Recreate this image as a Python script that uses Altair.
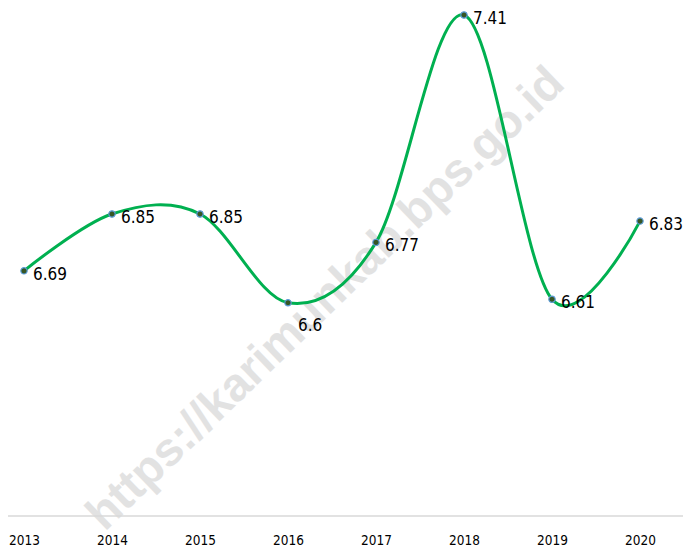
import altair as alt
import pandas as pd

years = ["2013", "2014", "2015", "2016", "2017", "2018", "2019", "2020"]
values = [6.69, 6.85, 6.85, 6.60, 6.77, 7.41, 6.61, 6.83]
labels = ["6.69", "6.85", "6.85", "6.6", "6.77", "7.41", "6.61", "6.83"]
watermark = "https://karimunkab.bps.go.id"

df = pd.DataFrame({"year": years, "value": values, "label": labels})

FONT = "Liberation Sans Narrow, DejaVu Sans Condensed, sans-serif"

x = alt.X("year:O", scale=alt.Scale(type="point", padding=0.1818),
          axis=alt.Axis(title=None, labelAngle=0, labelFont=FONT, labelFontSize=13.5,
                        labelColor="#000000", labelPadding=17, ticks=False,
                        domain=False, grid=False))
y = alt.Y("value:Q", scale=alt.Scale(domain=[6.0, 7.41], nice=False, zero=False),
          axis=None)

base = alt.Chart(df)

wm = base.mark_text(text=watermark, font="Liberation Sans, Arial, sans-serif",
                    fontWeight="bold", fontSize=47, angle=316, color="#dcdcdc",
                    opacity=0.8, align="center", baseline="middle").encode(
    x=alt.value(318), y=alt.value(284)).transform_filter(alt.datum.year == "2013")

rule = base.mark_rule(color="#d9d9d9", strokeWidth=1.3).encode(
    x=alt.value(-8), x2=alt.value(690), y=alt.value(501)).transform_filter(alt.datum.year == "2013")

line = base.mark_line(interpolate="cardinal", color="#00b050", strokeWidth=3).encode(x=x, y=y)

pts = base.mark_point(filled=True, size=40, fill="#375623", stroke="#5b9bd5",
                      strokeWidth=1.2, opacity=1).encode(x=x, y=y)

txt = base.mark_text(align="left", baseline="middle", dx=9, dy=4, font=FONT,
                     fontSize=17, color="#000000").encode(
    x=x, y=y, text="label:N").transform_filter(alt.datum.year != "2016")

txt2 = base.mark_text(align="left", baseline="middle", dx=10, dy=23, font=FONT,
                      fontSize=17, color="#000000").encode(
    x=x, y=y, text="label:N").transform_filter(alt.datum.year == "2016")

chart = alt.layer(wm, rule, line, pts, txt, txt2).properties(
    width=648, height=501,
    autosize=alt.AutoSizeParams(type="none"),
    padding={"left": 0, "top": 7, "right": 27, "bottom": 32},
    background="#ffffff",
).configure_view(strokeWidth=0, stroke="transparent")

chart.save("out.html", embed_options={"renderer": "svg", "actions": False})
